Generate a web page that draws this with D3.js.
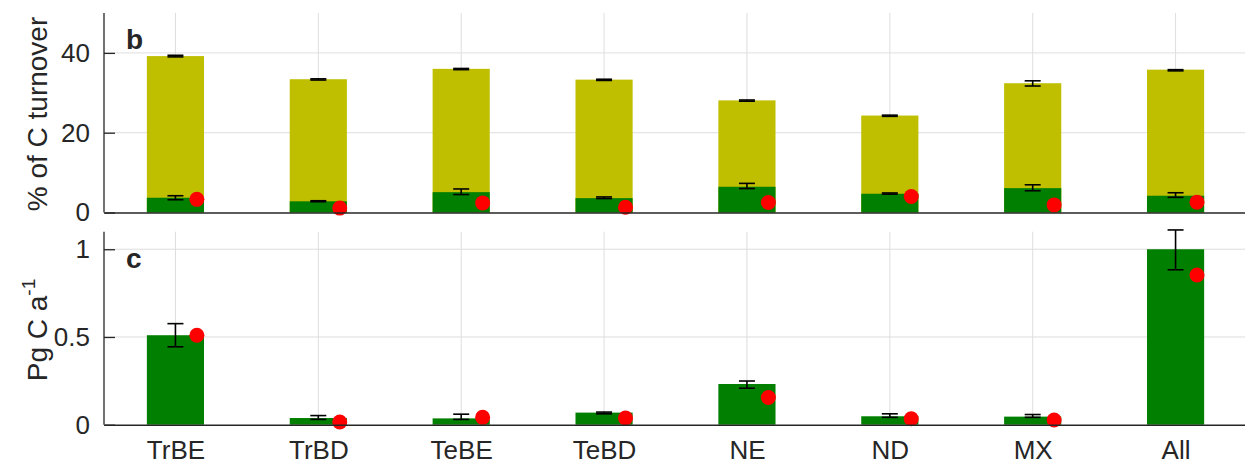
<!DOCTYPE html>
<html>
<head>
<meta charset="utf-8">
<script src="https://cdn.jsdelivr.net/npm/d3@7"></script>
<style>
  body { margin: 0; background: #fff; }
  text { font-family: "Liberation Sans", Arial, sans-serif; fill: #262626; }
</style>
</head>
<body>
<div id="chart"></div>
<script>
const width = 1245;
const height = 468;

// categories (PFTs)
const categories = ['TrBE', 'TrBD', 'TeBE', 'TeBD', 'NE', 'ND', 'MX', 'All'];

// panel b: % of C turnover
const totalPct = [39.2, 33.4, 36.0, 33.3, 28.1, 24.3, 32.4, 35.8];
const totalLo  = [39.0, 33.2, 35.8, 33.1, 27.9, 24.1, 31.7, 35.5];
const totalHi  = [39.4, 33.5, 36.1, 33.4, 28.2, 24.4, 33.0, 35.8];
const greenPct = [3.7, 2.8, 5.1, 3.6, 6.45, 4.7, 6.1, 4.2];
const greenLo  = [3.2, 2.7, 4.5, 3.5, 6.0, 4.6, 5.45, 3.8];
const greenHi  = [4.2, 2.95, 5.9, 3.9, 7.3, 4.9, 6.95, 4.95];
const redPct   = [3.3, 1.1, 2.4, 1.3, 2.5, 4.0, 1.9, 2.6];
const pctTicks = [0, 20, 40];

// panel c: Pg C a-1
const fluxPg = [0.51, 0.038, 0.036, 0.069, 0.232, 0.048, 0.046, 1.0];
const fluxLo = [0.444, 0.03, 0.03, 0.062, 0.208, 0.042, 0.042, 0.883];
const fluxHi = [0.576, 0.052, 0.06, 0.072, 0.249, 0.062, 0.058, 1.11];
const redPg  = [0.51, 0.015, 0.042, 0.038, 0.155, 0.034, 0.027, 0.853];
const pgTicks = [0, 0.5, 1];

const green = '#007f00';
const olive = '#bfbf00';
const gridColor = '#dedede';
const axisColor = '#262626';

const svg = d3.select('#chart')
  .append('svg')
  .attr('width', width)
  .attr('height', height);

// shared x scale, positions 1..8
const x = d3.scaleLinear()
  .domain([0.5, 8.5])
  .range([104, 1247]);
const barW = x(1.4) - x(1);
const pos = categories.map((d, i) => i + 1);

function panel(opts) {
  const y = d3.scaleLinear().domain(opts.domain).range([opts.bottom, opts.top]);
  const g = svg.append('g');

  // grid
  g.selectAll('line.hgrid')
    .data(opts.ticks.filter(t => t > 0))
    .join('line')
    .attr('x1', x(0.5)).attr('x2', x(8.5))
    .attr('y1', d => y(d)).attr('y2', d => y(d))
    .attr('stroke', gridColor).attr('stroke-width', 1);
  g.selectAll('line.vgrid')
    .data(pos)
    .join('line')
    .attr('x1', d => x(d)).attr('x2', d => x(d))
    .attr('y1', opts.top).attr('y2', opts.bottom)
    .attr('stroke', gridColor).attr('stroke-width', 1);

  // bars
  opts.bars.forEach(b => {
    g.selectAll(null)
      .data(b.values)
      .join('rect')
      .attr('x', (d, i) => x(pos[i]) - barW / 2)
      .attr('width', barW)
      .attr('y', d => y(d))
      .attr('height', d => y(0) - y(d))
      .attr('fill', b.color);
  });

  // error bars
  const cap = 8;
  opts.errors.forEach(e => {
    const eg = g.append('g').attr('stroke', '#000').attr('stroke-width', 1.6);
    e.lo.forEach((lo, i) => {
      const cx = x(pos[i]);
      const hi = e.hi[i];
      eg.append('line').attr('x1', cx).attr('x2', cx).attr('y1', y(lo)).attr('y2', y(hi));
      eg.append('line').attr('x1', cx - cap).attr('x2', cx + cap).attr('y1', y(lo)).attr('y2', y(lo));
      eg.append('line').attr('x1', cx - cap).attr('x2', cx + cap).attr('y1', y(hi)).attr('y2', y(hi));
    });
  });

  // red dots, shifted right of bar centre
  g.selectAll('circle')
    .data(opts.dots)
    .join('circle')
    .attr('cx', (d, i) => x(pos[i] + 0.15))
    .attr('cy', d => y(d))
    .attr('r', 7.5)
    .attr('fill', '#ff0000');

  // y axis
  const yAxis = g.append('g')
    .attr('transform', `translate(${x(0.5)},0)`)
    .call(d3.axisLeft(y).tickValues(opts.ticks).tickSize(-11).tickPadding(14).tickFormat(d3.format('')));
  yAxis.select('.domain').attr('stroke', axisColor).attr('stroke-width', 1.3)
    .attr('d', `M0,${opts.bottom}V${opts.top}`);
  yAxis.selectAll('.tick line').attr('stroke', axisColor).attr('stroke-width', 1.3);
  yAxis.selectAll('.tick text').attr('font-size', 26).attr('fill', axisColor)
    .attr('font-family', '"Liberation Sans", Arial, sans-serif');

  // x axis line
  const xAxis = g.append('g')
    .attr('transform', `translate(0,${opts.bottom})`)
    .call(d3.axisBottom(x).tickValues(pos).tickSize(0).tickPadding(16)
      .tickFormat(opts.showLabels ? (d => categories[d - 1]) : ''));
  xAxis.select('.domain').attr('stroke', axisColor).attr('stroke-width', 1.6);
  xAxis.selectAll('.tick text').attr('font-size', 26).attr('fill', axisColor)
    .attr('font-family', '"Liberation Sans", Arial, sans-serif');

  // panel letter
  g.append('text')
    .attr('x', 126).attr('y', opts.letterY)
    .attr('font-size', 28).attr('font-weight', 'bold').attr('fill', '#000')
    .text(opts.letter);

  return g;
}

panel({
  domain: [0, 50], top: 13, bottom: 212.5, ticks: pctTicks,
  bars: [{ values: totalPct, color: olive }, { values: greenPct, color: green }],
  errors: [{ lo: totalLo, hi: totalHi }, { lo: greenLo, hi: greenHi }],
  dots: redPct, letter: 'b', letterY: 49, showLabels: false
});

panel({
  domain: [0, 1.1], top: 231.7, bottom: 424.7, ticks: pgTicks,
  bars: [{ values: fluxPg, color: green }],
  errors: [{ lo: fluxLo, hi: fluxHi }],
  dots: redPg, letter: 'c', letterY: 268, showLabels: true
});

// y labels
svg.append('text')
  .attr('transform', 'translate(47,114) rotate(-90)')
  .attr('text-anchor', 'middle')
  .attr('font-size', 28)
  .text('% of C turnover');

const yl = svg.append('text')
  .attr('transform', 'translate(47,330) rotate(-90)')
  .attr('text-anchor', 'middle')
  .attr('font-size', 28);
yl.append('tspan').text('Pg C a');
yl.append('tspan').attr('dy', -12).attr('font-size', 19).text('-1');
</script>
</body>
</html>
